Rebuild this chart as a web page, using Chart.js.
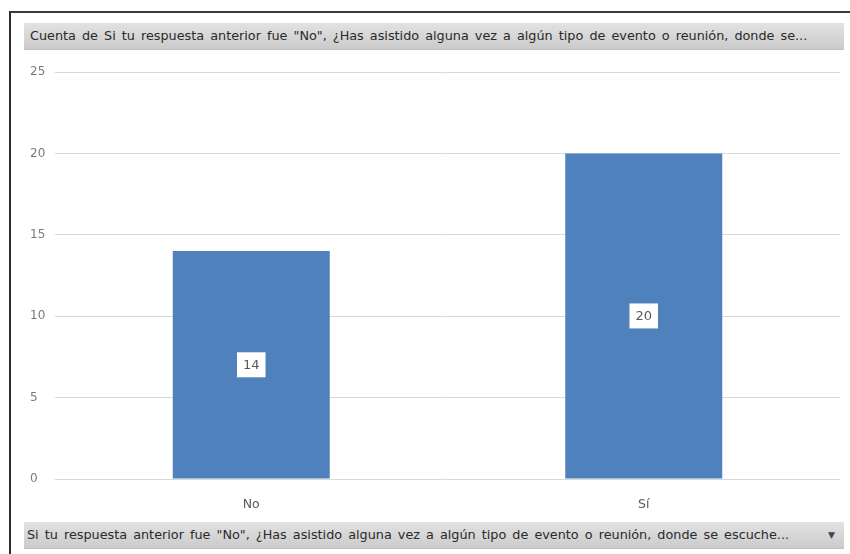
<!DOCTYPE html>
<html>
<head>
<meta charset="utf-8">
<script src="https://cdn.jsdelivr.net/npm/chart.js@4"></script>
<style>
  body { margin: 0; background: #fff; font-family: "DejaVu Sans", Verdana, sans-serif; }
  #wrap { position: relative; width: 850px; height: 554px; overflow: hidden; }
  #frame { position: absolute; left: 9px; top: 11px; width: 860px; height: 560px;
           border-left: 2px solid #2b2b2b; border-top: 2px solid #3a3a3a; }
  canvas { position: absolute; left: 0; top: 0; }
  .bar { position: absolute; left: 24px; width: 820px; height: 26px;
         background: linear-gradient(to bottom, #e2e2e2, #cbcbcb);
         border-bottom: 1px solid #c0c0c0; color: #2a2a2a; font-size: 12.8px;
         line-height: 26px; white-space: nowrap; word-spacing: 2px; }
  #titleBar { top: 23px; padding-left: 6px; width: 814px; }
  #fieldBar { top: 522px; padding-left: 3px; width: 817px; }
  #fieldBar span.arrow { position: absolute; right: 9px; top: 0; font-size: 9px; color: #444; }
</style>
</head>
<body>
<div id="wrap">
  <div id="frame"></div>
  <canvas id="chart" width="850" height="554"></canvas>
  <div class="bar" id="titleBar">Cuenta de Si tu respuesta anterior fue "No", ¿Has asistido alguna vez a algún tipo de evento o reunión, donde se...</div>
  <div class="bar" id="fieldBar">Si tu respuesta anterior fue "No", ¿Has asistido alguna vez a algún tipo de evento o reunión, donde se escuche...<span class="arrow">▼</span></div>
</div>
<script>
// Answers and their counts
const categories = ["No", "Sí"];
const counts = [14, 20];
const yTicks = [0, 5, 10, 15, 20, 25];

// White value boxes in the middle of each bar
const valueBoxes = {
  id: "valueBoxes",
  afterDatasetsDraw(chart) {
    const ctx = chart.ctx;
    const meta = chart.getDatasetMeta(0);
    ctx.save();
    ctx.font = "13px 'DejaVu Sans', sans-serif";
    ctx.textAlign = "center";
    ctx.textBaseline = "middle";
    meta.data.forEach((bar, i) => {
      const text = String(counts[i]);
      const cy = (bar.y + bar.base) / 2;
      const w = ctx.measureText(text).width + 12;
      const h = 25;
      ctx.fillStyle = "#ffffff";
      ctx.fillRect(bar.x - w / 2, cy - h / 2, w, h);
      ctx.fillStyle = "#595959";
      ctx.fillText(text, bar.x, cy + 1);
    });
    ctx.restore();
  }
};

new Chart(document.getElementById("chart"), {
  type: "bar",
  data: {
    labels: categories,
    datasets: [{
      data: counts,
      backgroundColor: "#4f81bd",
      categoryPercentage: 1,
      barPercentage: 0.4
    }]
  },
  options: {
    responsive: false,
    animation: false,
    events: [],
    layout: { padding: { left: 30, right: 10, top: 72, bottom: 45 } },
    plugins: { legend: { display: false }, tooltip: { enabled: false } },
    scales: {
      x: {
        grid: { display: false },
        border: { display: false },
        ticks: { color: "#595959", padding: 10, font: { size: 12.5, family: "DejaVu Sans" } },
        afterFit(s) { s.height = 30; }
      },
      y: {
        min: 0,
        max: 25,
        afterBuildTicks(s) { s.ticks = yTicks.map(v => ({ value: v })); },
        grid: { color: "#d9d9d9", drawTicks: false },
        border: { display: false },
        ticks: { color: "#7a7a7a", crossAlign: "far", font: { size: 12, family: "DejaVu Sans" } },
        afterFit(s) { s.width = 25; }
      }
    }
  },
  plugins: [valueBoxes]
});
</script>
</body>
</html>
